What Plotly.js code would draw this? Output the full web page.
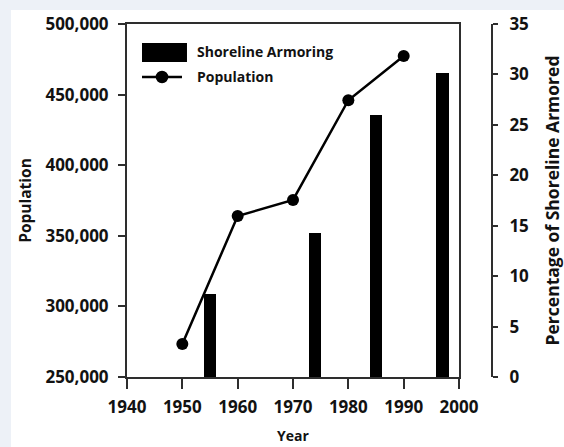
<!DOCTYPE html>
<html>
<head>
<meta charset="utf-8">
<script src="https://cdn.plot.ly/plotly-3.0.1.min.js"></script>
<style>
  html, body { margin: 0; padding: 0; width: 564px; height: 447px; overflow: hidden; background: #edf1f7; }
  #chart { position: absolute; left: 11px; top: 10px; width: 553px; height: 437px; background: #ffffff; }
</style>
</head>
<body>
<div id="chart"></div>
<script>
// Data
const popYears = [1950, 1960, 1970, 1980, 1990];
const population = [273400, 364000, 375400, 446000, 477300];

const armorYears = [1955, 1974, 1985, 1997];
const armorPercent = [8.2, 14.3, 26.0, 30.1];

const xTickVals = [1940, 1950, 1960, 1970, 1980, 1990, 2000];
const popTickVals = [250000, 300000, 350000, 400000, 450000, 500000];
const pctTickVals = [0, 5, 10, 15, 20, 25, 30, 35];

const seriesNames = ['Shoreline Armoring', 'Population'];
const xTitle = 'Year';
const yTitle = 'Population';
const y2Title = 'Percentage of Shoreline Armored';

const FONT = 'Open Sans, DejaVu Sans, sans-serif';
const AX = '#2e2e2e';
const TXT = '#121212';

const bars = {
  type: 'bar',
  name: seriesNames[0],
  x: armorYears,
  y: armorPercent,
  yaxis: 'y2',
  width: 2.2,
  marker: { color: '#000000', line: { width: 0 } },
  showlegend: false,
  hoverinfo: 'x+y'
};

const line = {
  type: 'scatter',
  mode: 'lines+markers',
  name: seriesNames[1],
  x: popYears,
  y: population,
  yaxis: 'y',
  line: { color: '#000000', width: 2.5 },
  marker: { color: '#000000', size: 12, symbol: 'circle' },
  showlegend: false
};

// hand-built legend (paper coords) to match the wide swatch of the reference
const legendShapes = [
  { type: 'rect', xref: 'paper', yref: 'paper', x0: 0.0378, x1: 0.1511, y0: 0.8924, y1: 0.9462,
    fillcolor: '#000000', line: { width: 0 } },
  { type: 'line', xref: 'paper', yref: 'paper', x0: 0.0378, x1: 0.1385, y0: 0.8499, y1: 0.8499,
    line: { color: '#000000', width: 2.5 } },
  { type: 'circle', xref: 'paper', yref: 'paper', x0: 0.0723, x1: 0.1041, y0: 0.8322, y1: 0.8676,
    fillcolor: '#000000', line: { width: 0 } }
];

const legendLabels = seriesNames.map((n, i) => ({
  text: n, xref: 'paper', yref: 'paper', x: 0.1713, y: i === 0 ? 0.9207 : 0.8499,
  xanchor: 'left', yanchor: 'middle', showarrow: false,
  font: { family: FONT, size: 14, weight: 700, color: TXT }
}));

const layout = {
  width: 553,
  height: 437,
  margin: { l: 116, r: 40, t: 14, b: 70 },
  paper_bgcolor: '#ffffff',
  plot_bgcolor: '#ffffff',
  showlegend: false,
  bargap: 0,
  xaxis: {
    domain: [0, 0.8363],
    range: [1940, 2000],
    tickvals: xTickVals,
    ticks: 'outside', ticklen: 10, tickwidth: 2, tickcolor: AX,
    showline: true, linecolor: AX, linewidth: 2, mirror: true,
    showgrid: false, zeroline: false,
    tickfont: { family: FONT, size: 17, weight: 700, color: TXT },
    ticklabelstandoff: 4,
    title: { text: xTitle, standoff: 14, font: { family: FONT, size: 14, weight: 700, color: TXT } }
  },
  yaxis: {
    range: [250000, 500000],
    tickvals: popTickVals,
    tickformat: ',d',
    ticks: 'outside', ticklen: 7, tickwidth: 2, tickcolor: AX,
    showline: true, linecolor: AX, linewidth: 2, mirror: true,
    showgrid: false, zeroline: false,
    tickfont: { family: FONT, size: 17, weight: 700, color: TXT },
    ticklabelstandoff: 6,
    title: { text: yTitle, standoff: 10, font: { family: FONT, size: 15.5, weight: 700, color: TXT } }
  },
  yaxis2: {
    overlaying: 'y',
    anchor: 'free',
    position: 0.9194,
    side: 'right',
    range: [0, 35],
    tickvals: pctTickVals,
    ticks: 'outside', ticklen: 5, tickwidth: 2, tickcolor: AX,
    showline: true, linecolor: AX, linewidth: 2,
    showgrid: false, zeroline: false,
    tickfont: { family: FONT, size: 17, weight: 700, color: TXT },
    ticklabelstandoff: 8,
    title: { text: y2Title, standoff: 26, font: { family: FONT, size: 17.5, weight: 700, color: TXT } }
  },
  shapes: legendShapes,
  annotations: legendLabels
};

Plotly.newPlot('chart', [bars, line], layout, { staticPlot: true, displayModeBar: false });
</script>
</body>
</html>
